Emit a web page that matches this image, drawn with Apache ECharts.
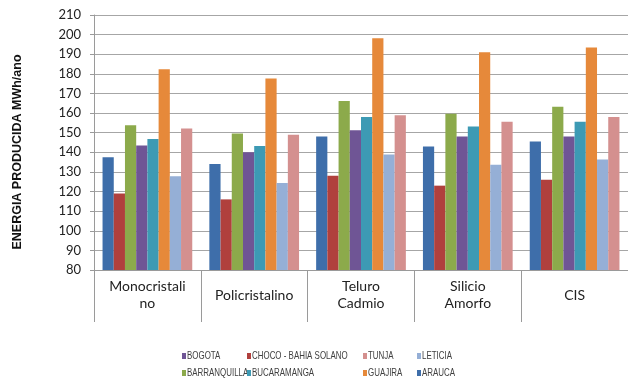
<!DOCTYPE html>
<html>
<head>
<meta charset="utf-8">
<script src="https://cdn.jsdelivr.net/npm/echarts@6/dist/echarts.min.js"></script>
<style>html,body{margin:0;padding:0;background:#fff}#c{width:628px;height:387px}</style>
</head>
<body>
<div id="c"></div>
<script>
const categories = ['Monocristali\nno', 'Policristalino', 'Teluro\nCadmio', 'Silicio\nAmorfo', 'CIS'];
const yTicks = { min: 80, max: 210, interval: 10 };
const yTitle = 'ENERGIA PRODUCIDA MWh/ano';

const seriesNames = ['ARAUCA', 'CHOCO - BAHIA SOLANO', 'BARRANQUILLA', 'BOGOTA', 'BUCARAMANGA', 'GUAJIRA', 'LETICIA', 'TUNJA'];
const arauca       = [137.5, 134.0, 148.0, 143.0, 145.5];
const choco        = [119.0, 116.0, 128.0, 123.0, 126.0];
const barranquilla = [153.8, 149.6, 166.2, 159.7, 163.2];
const bogota       = [143.5, 140.0, 151.2, 148.0, 148.0];
const bucaramanga  = [146.8, 143.2, 158.0, 153.2, 155.6];
const guajira      = [182.3, 177.6, 198.2, 191.0, 193.4];
const leticia      = [127.8, 124.4, 138.9, 133.6, 136.3];
const tunja        = [152.2, 148.9, 158.9, 155.6, 158.0];
const seriesValues = [arauca, choco, barranquilla, bogota, bucaramanga, guajira, leticia, tunja];
const colors = ['#3E6EAA', '#B0403D', '#8CAA4B', '#6F5595', '#3D9AB4', '#E6893A', '#95AFD6', '#D4908F'];

// legend layout: rows of series names as shown in the reference
const legendRows = [['BOGOTA', 'CHOCO - BAHIA SOLANO', 'TUNJA', 'LETICIA'], ['BARRANQUILLA', 'BUCARAMANGA', 'GUAJIRA', 'ARAUCA']];

const chart = echarts.init(document.getElementById('c'));
const labelFont = 'Lato, "Open Sans", sans-serif';

const colX = [182, 247, 363, 417];
const rowY = [356, 373];
const legendGraphics = [];
legendRows.forEach((row, r) => {
  row.forEach((name, c) => {
    const idx = seriesNames.indexOf(name);
    legendGraphics.push({
      type: 'rect', shape: { x: colX[c], y: rowY[r] - 3, width: 4, height: 6 },
      style: { fill: colors[idx] }, silent: true
    });
    legendGraphics.push({
      type: 'text', x: colX[c] + 5, y: rowY[r], scaleX: 0.69, scaleY: 1,
      style: { text: name, font: '11.5px "Liberation Sans", Arial, sans-serif', fill: '#404040', textAlign: 'left', textVerticalAlign: 'middle' },
      silent: true
    });
  });
});

chart.setOption({
  animation: false,
  backgroundColor: '#fff',
  color: colors,
  grid: { left: 94, top: 15, right: 0, bottom: 117, containLabel: false },
  xAxis: {
    type: 'category',
    data: categories,
    axisLine: { show: true, lineStyle: { color: '#9A9A9A', width: 1 } },
    axisTick: { show: true, length: 52, alignWithLabel: false, lineStyle: { color: '#9A9A9A', width: 1 } },
    axisLabel: { color: '#222', fontSize: 14, fontFamily: labelFont, margin: 25, verticalAlign: 'middle', lineHeight: 17, interval: 0 },
    splitLine: { show: false }
  },
  yAxis: {
    type: 'value',
    min: yTicks.min, max: yTicks.max, interval: yTicks.interval,
    axisLine: { show: true, lineStyle: { color: '#9A9A9A', width: 1 } },
    axisTick: { show: true, length: 4, lineStyle: { color: '#9A9A9A' } },
    axisLabel: { color: '#222', fontSize: 13, fontFamily: labelFont, margin: 13 },
    splitLine: { show: true, lineStyle: { color: '#A6A6A6', width: 1 } }
  },
  legend: { show: false, data: seriesNames },
  graphic: [{
    type: 'text',
    x: 18, y: 152,
    rotation: Math.PI / 2,
    style: { text: yTitle, font: 'bold 12.5px "Liberation Sans", Arial, sans-serif', fill: '#111', textAlign: 'center', textVerticalAlign: 'middle' }
  }].concat(legendGraphics),
  series: seriesNames.map((n, i) => ({
    name: n,
    type: 'bar',
    data: seriesValues[i],
    barGap: '0%',
    barCategoryGap: '16%',
    itemStyle: { color: colors[i] }
  }))
});
</script>
</body>
</html>
